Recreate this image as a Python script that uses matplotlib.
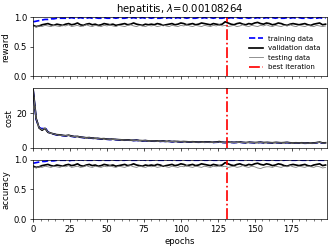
import numpy as np
import matplotlib
matplotlib.use("Agg")
import matplotlib.pyplot as plt
from matplotlib.ticker import MultipleLocator

epochs = list(range(0, 200, 2))
best_iteration = 131
title = "hepatitis, $\\lambda$=0.00108264"

train_reward = [0.92, 0.93, 0.94, 0.95, 0.96, 0.96, 0.97, 0.97, 0.98, 0.98,
                0.98, 0.98, 0.98, 0.99, 0.98, 0.98, 0.99, 0.98, 0.98, 0.99,
                0.98, 0.99, 0.98, 0.98, 0.99, 0.98, 0.98, 0.99, 0.98, 0.99,
                0.98, 0.98, 0.99, 0.98, 0.99, 0.98, 0.98, 0.99, 0.98, 0.99,
                0.98, 0.99, 0.98, 0.98, 0.99, 0.98, 0.99, 0.98, 0.98, 0.99,
                0.98, 0.99, 0.98, 0.99, 0.98, 0.98, 0.99, 0.98, 0.99, 0.98,
                0.99, 0.98, 0.99, 0.98, 0.98, 0.99, 0.98, 0.99, 0.98, 0.99,
                0.98, 0.98, 0.99, 0.98, 0.99, 0.98, 0.99, 0.98, 0.98, 0.99,
                0.98, 0.99, 0.98, 0.99, 0.98, 0.98, 0.99, 0.98, 0.99, 0.98,
                0.99, 0.98, 0.98, 0.99, 0.98, 0.99, 0.98, 0.99, 0.98, 0.98]
val_reward = [0.86, 0.84, 0.85, 0.87, 0.88, 0.89, 0.87, 0.86, 0.88, 0.87,
              0.86, 0.88, 0.89, 0.87, 0.88, 0.90, 0.87, 0.86, 0.88, 0.89,
              0.87, 0.88, 0.86, 0.87, 0.89, 0.88, 0.87, 0.88, 0.86, 0.87,
              0.88, 0.89, 0.87, 0.88, 0.90, 0.88, 0.87, 0.86, 0.88, 0.87,
              0.88, 0.87, 0.89, 0.88, 0.86, 0.87, 0.88, 0.89, 0.87, 0.88,
              0.90, 0.89, 0.87, 0.88, 0.89, 0.87, 0.88, 0.90, 0.89, 0.88,
              0.87, 0.89, 0.88, 0.87, 0.88, 0.92, 0.90, 0.88, 0.87, 0.89,
              0.90, 0.88, 0.87, 0.89, 0.88, 0.90, 0.91, 0.89, 0.88, 0.90,
              0.89, 0.87, 0.88, 0.90, 0.89, 0.87, 0.86, 0.88, 0.89, 0.88,
              0.87, 0.88, 0.89, 0.87, 0.86, 0.88, 0.89, 0.90, 0.87, 0.88]
test_reward = [0.85, 0.83, 0.85, 0.84, 0.86, 0.85, 0.84, 0.86, 0.85, 0.84,
               0.86, 0.85, 0.87, 0.84, 0.85, 0.86, 0.84, 0.85, 0.87, 0.85,
               0.84, 0.86, 0.85, 0.84, 0.86, 0.85, 0.87, 0.85, 0.84, 0.86,
               0.85, 0.84, 0.86, 0.87, 0.85, 0.84, 0.86, 0.85, 0.84, 0.86,
               0.85, 0.86, 0.84, 0.85, 0.87, 0.85, 0.84, 0.86, 0.85, 0.84,
               0.86, 0.85, 0.87, 0.85, 0.84, 0.86, 0.85, 0.84, 0.86, 0.85,
               0.84, 0.86, 0.85, 0.87, 0.85, 0.86, 0.84, 0.85, 0.86, 0.84,
               0.85, 0.87, 0.85, 0.84, 0.86, 0.85, 0.84, 0.86, 0.85, 0.87,
               0.85, 0.84, 0.86, 0.85, 0.84, 0.86, 0.85, 0.87, 0.85, 0.84,
               0.86, 0.85, 0.84, 0.86, 0.85, 0.84, 0.86, 0.85, 0.84, 0.85]

val_cost = [33.5, 17.0, 11.5, 10.2, 11.3, 9.0, 8.5, 8.0, 7.6, 7.5,
            7.2, 7.0, 7.3, 6.8, 6.5, 6.6, 6.2, 6.0, 5.8, 5.9,
            5.6, 5.5, 5.4, 5.2, 5.3, 5.0, 4.9, 5.0, 4.8, 4.7,
            4.6, 4.5, 4.6, 4.4, 4.3, 4.4, 4.2, 4.1, 4.2, 4.0,
            4.0, 3.9, 4.0, 3.8, 3.9, 3.7, 3.8, 3.6, 3.7, 3.6,
            3.5, 3.6, 3.5, 3.4, 3.5, 3.4, 3.3, 3.4, 3.3, 3.4,
            3.3, 3.2, 3.3, 3.6, 3.2, 3.1, 3.3, 3.2, 3.1, 3.2,
            3.3, 3.1, 3.0, 3.2, 3.1, 3.0, 3.1, 3.2, 3.0, 3.1,
            3.0, 2.9, 3.1, 3.0, 2.9, 3.0, 3.1, 2.9, 2.8, 2.9,
            2.8, 2.9, 2.7, 2.8, 2.7, 2.8, 3.0, 3.3, 2.8, 2.9]
train_cost = [33.0, 16.5, 11.8, 11.0, 11.8, 9.2, 8.3, 7.9, 7.4, 7.3,
              7.0, 6.9, 7.1, 6.6, 6.4, 6.5, 6.1, 5.9, 5.7, 5.8,
              5.5, 5.4, 5.3, 5.1, 5.2, 4.9, 4.8, 4.9, 4.7, 4.6,
              4.5, 4.4, 4.5, 4.3, 4.2, 4.3, 4.1, 4.0, 4.1, 3.9,
              3.9, 3.8, 3.9, 3.7, 3.8, 3.6, 3.7, 3.5, 3.6, 3.5,
              3.4, 3.5, 3.4, 3.3, 3.4, 3.3, 3.2, 3.3, 3.2, 3.3,
              3.2, 3.1, 3.2, 3.3, 3.1, 3.0, 3.2, 3.1, 3.0, 3.1,
              3.2, 3.0, 2.9, 3.1, 3.0, 2.9, 3.0, 3.1, 2.9, 3.0,
              2.9, 2.8, 3.0, 2.9, 2.8, 2.9, 3.0, 2.8, 2.7, 2.8,
              2.7, 2.8, 2.6, 2.7, 2.6, 2.7, 2.9, 3.1, 2.7, 2.8]
test_cost = [33.2, 16.8, 11.6, 10.5, 11.5, 9.1, 8.4, 8.0, 7.5, 7.4,
             7.1, 7.0, 7.2, 6.7, 6.5, 6.5, 6.2, 6.0, 5.8, 5.8,
             5.6, 5.5, 5.3, 5.2, 5.2, 5.0, 4.9, 4.9, 4.8, 4.7,
             4.6, 4.5, 4.5, 4.4, 4.3, 4.3, 4.2, 4.1, 4.1, 4.0,
             4.0, 3.9, 3.9, 3.8, 3.8, 3.7, 3.7, 3.6, 3.6, 3.5,
             3.5, 3.5, 3.4, 3.4, 3.4, 3.3, 3.3, 3.3, 3.2, 3.3,
             3.2, 3.2, 3.2, 3.4, 3.1, 3.1, 3.2, 3.1, 3.1, 3.1,
             3.2, 3.0, 3.0, 3.1, 3.0, 3.0, 3.0, 3.1, 2.9, 3.0,
             2.9, 2.9, 3.0, 2.9, 2.9, 2.9, 3.0, 2.8, 2.8, 2.8,
             2.8, 2.8, 2.7, 2.7, 2.7, 2.7, 2.9, 3.2, 2.7, 2.8]

train_acc = [0.94, 0.95, 0.96, 0.97, 0.97, 0.98, 0.98, 0.98, 0.99, 0.99,
             0.99, 0.99, 0.98, 0.99, 0.99, 0.99, 1.00, 0.99, 0.99, 0.99,
             0.99, 1.00, 0.99, 0.99, 0.99, 0.99, 0.99, 1.00, 0.99, 0.99,
             0.99, 0.99, 1.00, 0.99, 0.99, 0.99, 0.99, 1.00, 0.99, 0.99,
             0.99, 1.00, 0.99, 0.99, 0.99, 0.99, 1.00, 0.99, 0.99, 0.99,
             0.99, 1.00, 0.99, 0.99, 0.99, 0.99, 0.99, 1.00, 0.99, 0.99,
             1.00, 0.99, 0.99, 0.99, 0.99, 1.00, 0.99, 0.99, 0.99, 1.00,
             0.99, 0.99, 0.99, 1.00, 0.99, 0.99, 0.99, 0.99, 1.00, 0.99,
             0.99, 1.00, 0.99, 0.99, 0.99, 0.99, 1.00, 0.99, 0.99, 0.99,
             1.00, 0.99, 0.99, 0.99, 0.99, 1.00, 0.99, 0.99, 0.99, 0.99]
val_acc = [0.89, 0.87, 0.88, 0.90, 0.91, 0.92, 0.90, 0.89, 0.91, 0.90,
           0.89, 0.91, 0.92, 0.90, 0.91, 0.93, 0.90, 0.89, 0.91, 0.92,
           0.90, 0.91, 0.89, 0.90, 0.92, 0.91, 0.90, 0.91, 0.89, 0.90,
           0.91, 0.92, 0.90, 0.91, 0.93, 0.91, 0.90, 0.89, 0.91, 0.90,
           0.91, 0.90, 0.92, 0.91, 0.89, 0.90, 0.91, 0.92, 0.90, 0.91,
           0.93, 0.92, 0.90, 0.91, 0.92, 0.90, 0.91, 0.93, 0.92, 0.91,
           0.90, 0.92, 0.91, 0.90, 0.91, 0.95, 0.93, 0.91, 0.90, 0.92,
           0.93, 0.91, 0.90, 0.92, 0.91, 0.93, 0.94, 0.92, 0.91, 0.93,
           0.92, 0.90, 0.91, 0.93, 0.92, 0.90, 0.89, 0.91, 0.92, 0.91,
           0.90, 0.91, 0.92, 0.90, 0.89, 0.91, 0.92, 0.93, 0.90, 0.91]
test_acc = [0.88, 0.86, 0.88, 0.87, 0.89, 0.88, 0.87, 0.89, 0.88, 0.87,
            0.89, 0.88, 0.90, 0.87, 0.88, 0.89, 0.87, 0.88, 0.90, 0.88,
            0.87, 0.89, 0.88, 0.87, 0.89, 0.88, 0.90, 0.88, 0.87, 0.89,
            0.88, 0.87, 0.89, 0.90, 0.88, 0.87, 0.89, 0.88, 0.87, 0.89,
            0.88, 0.89, 0.87, 0.88, 0.90, 0.88, 0.87, 0.89, 0.88, 0.87,
            0.89, 0.88, 0.90, 0.88, 0.87, 0.89, 0.88, 0.87, 0.89, 0.88,
            0.87, 0.89, 0.88, 0.90, 0.88, 0.89, 0.87, 0.88, 0.89, 0.87,
            0.88, 0.90, 0.88, 0.87, 0.89, 0.88, 0.86, 0.85, 0.87, 0.88,
            0.88, 0.87, 0.89, 0.88, 0.87, 0.89, 0.88, 0.90, 0.88, 0.87,
            0.89, 0.88, 0.87, 0.89, 0.88, 0.87, 0.89, 0.88, 0.86, 0.87]

DPI = 61
fig, axes = plt.subplots(3, 1, sharex=True, figsize=(332 / DPI, 247 / DPI), dpi=DPI)
fig.subplots_adjust(left=0.10, right=0.985, top=0.931, bottom=0.113, hspace=0.2)

series = [
    (axes[0], train_reward, val_reward, test_reward, "reward"),
    (axes[1], train_cost, val_cost, test_cost, "cost"),
    (axes[2], train_acc, val_acc, test_acc, "accuracy"),
]
for ax, tr, va, te, lab in series:
    ax.plot(epochs, tr, color="blue", linestyle="--", linewidth=2, label="training data")
    ax.plot(epochs, va, color="black", linestyle="-", linewidth=2, label="validation data")
    ax.plot(epochs, te, color="gray", linestyle="-", linewidth=1, label="testing data")
    ax.axvline(best_iteration, color="red", linestyle="-.", linewidth=2, label="best iteration")
    ax.set_ylabel(lab)
    ax.xaxis.set_minor_locator(MultipleLocator(5))

axes[0].set_ylim(0, 1)
axes[0].set_yticks([0, 0.5, 1.0])
axes[1].set_ylim(0, max(val_cost) + 1)
axes[1].set_yticks([0, 20])
axes[2].set_ylim(0, 1)
axes[2].set_yticks([0, 0.5, 1.0])
axes[2].set_xlim(0, 199)
axes[2].set_xticks(range(0, 200, 25))
axes[2].set_xlabel("epochs")
axes[0].set_title(title)
axes[0].legend(loc="lower right", frameon=False, fontsize="small")

fig.savefig("out.png", dpi=DPI)
